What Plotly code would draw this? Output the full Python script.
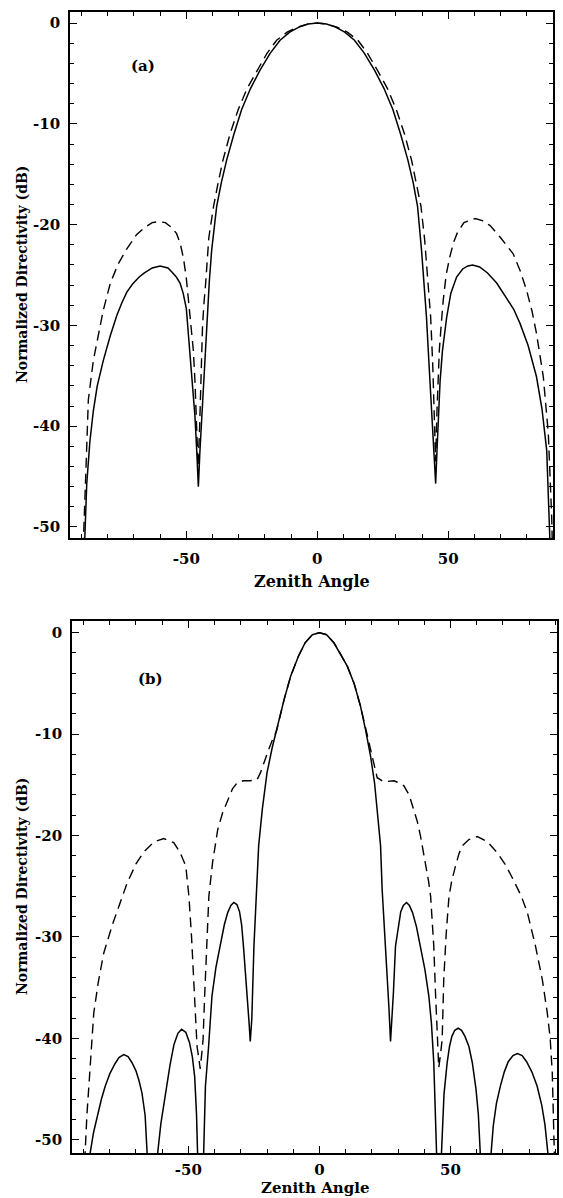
import plotly.graph_objects as go

W, H = 563, 1198

# ---------------- data ----------------
# Panel (a)
a_solid_x = [-90, -88.8, -88.0, -86.8, -85.5, -84.0, -81.7, -79.0, -76.5, -74.5, -72.7, -70.5, -68.0, -66.0, -63.0, -60.0,
             -57.0, -55.5, -53.8, -52.4, -51.2, -50.0, -48.6, -47.6, -46.7, -46.0, -45.4,
             -44.8, -44.1, -43.2, -42.2, -41.2, -40.3, -38.4, -36.6, -34.6, -31.8, -28.9, -25.5, -21.9,
             -18.0, -14.2, -10.5, -7.0, -3.5, 0,
             3.5, 7.0, 10.5, 14.2, 18.0, 21.9, 25.5, 28.9, 31.8, 34.6, 36.6, 38.3, 39.8, 40.8,
             41.7, 42.7, 43.7, 44.5, 45.2, 45.7, 46.2, 46.9, 47.8, 49.4, 51.0, 53.2, 55.5, 57.5,
             59.3, 62.0, 65.0, 68.5, 72.0, 75.0, 77.4, 80.5, 83.7, 85.8, 87.6, 88.8, 90]
a_solid_y = [-60, -51.5, -45.7, -41.5, -38.5, -36.0, -33.5, -31.0, -29.0, -27.7, -26.7, -25.9, -25.2, -24.8, -24.3, -24.1,
             -24.3, -24.7, -25.2, -25.8, -26.8, -28.3, -32.5, -35.5, -39.0, -42.5, -46.0,
             -42.5, -39.1, -34.0, -29.2, -25.6, -22.5, -18.2, -15.8, -13.6, -11.0, -8.6, -6.5, -4.7,
             -3.0, -1.7, -0.9, -0.4, -0.1, 0,
             -0.1, -0.4, -0.9, -1.7, -3.0, -4.7, -6.5, -8.6, -11.0, -13.6, -15.8, -18.2, -22.5, -25.6,
             -29.2, -34.0, -39.1, -42.5, -45.7, -42.5, -39.1, -35.5, -32.5, -29.2, -26.8, -25.2, -24.4, -24.1,
             -24.0, -24.2, -24.8, -25.8, -27.2, -28.4, -29.8, -32.0, -35.1, -38.3, -42.4, -51.5, -60]

a_dash_x = [-90, -89.3, -88.5, -87.4, -85.5, -83.5, -81.7, -79.0, -76.0, -72.7, -69.0, -66.0, -63.0, -60.7,
            -58.0, -55.5, -53.7, -52.3, -51.1, -50.0, -49.2, -48.2, -47.3, -46.7, -46.2, -45.5,
            -44.9, -44.4, -43.8, -43.2, -42.6, -41.4, -39.6, -37.8, -36.0, -33.3, -30.2, -26.8, -23.0,
            -19.2, -15.5, -11.5, -7.5, -3.7, 0,
            3.7, 7.5, 11.5, 15.5, 19.2, 23.0, 26.8, 30.2, 33.3, 36.0, 37.8, 39.6, 41.0, 42.4,
            43.3, 44.1, 44.7, 45.2, 45.7, 46.1, 46.6, 47.3, 48.1, 49.2, 50.6, 52.0, 53.5, 56.0,
            60.3, 63.0, 66.0, 70.0, 74.8, 77.5, 79.9, 82.0, 83.7, 86.3, 88.2, 89.5, 90.5]
a_dash_y = [-60, -51.5, -45.7, -37.4, -33.5, -30.8, -28.5, -25.8, -23.9, -22.4, -21.0, -20.3, -19.8, -19.7,
            -19.8, -20.3, -20.9, -21.9, -23.3, -25.3, -27.5, -30.0, -32.5, -35.5, -38.5, -44.0,
            -40.0, -35.0, -30.0, -27.6, -25.8, -21.3, -18.2, -15.8, -13.6, -11.0, -8.6, -6.5, -4.7,
            -3.0, -1.7, -0.9, -0.4, -0.1, 0,
            -0.1, -0.4, -0.9, -1.7, -3.0, -4.7, -6.5, -8.6, -11.0, -13.6, -15.8, -18.2, -21.5, -25.8,
            -29.2, -34.0, -38.5, -43.5, -38.5, -35.0, -32.5, -30.0, -27.5, -25.0, -23.2, -21.8, -20.8, -19.8,
            -19.4, -19.6, -20.1, -21.3, -22.9, -24.6, -26.5, -28.6, -30.8, -35.1, -40.7, -49.0, -60]

# Panel (b)
b_solid_x = [-89.0, -87.6, -86.2, -84.8, -83.2, -81.7, -80.0, -78.0, -76.5, -74.7, -73.0, -71.5, -70.0, -68.8, -67.7, -66.5, -65.5, -64.0,
             -63.0, -61.8, -60.5, -59.3, -58.4, -57.0, -55.5, -54.0, -52.6, -51.0, -49.6, -48.5, -47.6, -46.9, -45.6,
             -45.3, -44.2, -43.5, -42.3, -41.0, -39.5, -37.8, -36.3, -35.0, -33.8, -32.7, -31.5, -30.5, -29.7,
             -29.0, -28.2, -27.5, -26.9, -26.4, -25.8, -25.0, -24.2, -23.2, -21.8, -20.0, -18.0, -16.1,
             -13.5, -11.0, -8.0, -5.5, -2.7, 0,
             2.7, 5.5, 8.0, 10.6, 13.2, 15.6, 17.6, 19.5, 21.0, 22.0, 23.3, 23.9, 24.6, 25.2, 25.9, 26.5,
             27.1, 27.7, 28.2, 29.0, 30.0, 31.0, 32.0, 33.2, 34.3, 35.5, 37.0, 38.5, 40.2, 41.7, 42.7,
             43.6, 44.4, 45.4, 45.7, 46.5, 47.5, 48.7, 49.6, 50.5, 51.6, 52.9, 54.2, 55.5, 57.0, 58.3,
             59.7, 60.6, 61.4, 63.0, 64.0, 65.4, 66.3, 67.5, 69.0, 70.5, 72.0, 73.8, 75.5, 77.3, 79.0, 81.0, 83.0,
             84.8, 86.0, 87.2, 89.0]
b_solid_y = [-60, -51.5, -49.3, -47.6, -46.0, -44.7, -43.5, -42.5, -41.9, -41.6, -41.8, -42.4, -43.2, -44.2, -45.4, -47.6, -51.5, -60,
             -60, -51.5, -48.4, -46.3, -44.8, -42.6, -40.6, -39.5, -39.1, -39.4, -40.4, -41.8, -43.8, -47.5, -60,
             -60, -51.5, -44.7, -40.8, -35.8, -33.0, -30.9, -28.8, -27.6, -26.9, -26.6, -26.8, -27.5, -28.8,
             -30.9, -33.5, -36.0, -38.3, -40.3, -38.0, -30.9, -26.0, -21.0, -17.4, -13.8, -11.3, -9.2,
             -6.6, -4.3, -2.3, -1.0, -0.2, 0,
             -0.2, -1.0, -2.1, -3.3, -5.0, -7.2, -9.6, -12.2, -14.8, -17.4, -21.0, -25.3, -28.3, -30.9, -33.8, -37.0,
             -40.3, -38.0, -35.5, -30.9, -29.0, -27.5, -26.9, -26.6, -26.9, -27.6, -29.0, -30.9, -33.2, -35.8, -38.5,
             -42.4, -51.5, -60, -60, -51.5, -45.5, -42.4, -40.8, -39.8, -39.2, -39.0, -39.2, -39.8, -40.8, -42.4,
             -45.0, -47.5, -51.5, -60, -60, -51.5, -48.6, -46.4, -44.7, -43.3, -42.3, -41.7, -41.5, -41.7, -42.3, -43.3, -44.7,
             -46.6, -48.5, -51.5, -60]

b_dash_x = [-91.0, -89.5, -88.7, -87.7, -86.1, -84.4, -82.3, -79.0, -76.0, -73.4, -70.0, -67.0, -63.0, -59.4,
            -55.6, -53.3, -51.0, -49.8, -48.8, -47.8, -46.7, -46.0, -45.5,
            -44.9, -44.4, -43.8, -43.1, -42.2, -40.8, -38.8, -37.0, -35.2, -33.2, -31.4, -29.0, -26.5, -23.8,
            -22.5, -21.2, -19.5, -18.0, -16.4, -13.5, -11.0, -8.0, -5.5, -2.7, 0,
            2.7, 5.5, 8.0, 10.6, 13.2, 15.6, 17.5, 19.0, 20.5, 22.0, 24.5, 27.0, 28.4, 30.3, 32.2, 34.2,
            36.0, 37.3, 38.5, 39.6, 40.7, 41.6, 42.4, 43.0, 43.6, 44.3, 44.9, 45.5,
            46.1, 46.8, 47.4, 48.3, 49.4, 50.5, 51.9, 53.2, 54.5, 57.0, 60.2, 64.0, 67.8, 71.0, 74.2,
            77.0, 79.3, 82.4, 85.0, 86.9, 88.0, 88.8, 89.6, 91.0]
b_dash_y = [-60, -51.5, -47.5, -43.7, -37.5, -34.5, -31.6, -28.8, -26.6, -24.7, -22.8, -21.6, -20.6, -20.3,
            -20.7, -21.6, -23.0, -26.0, -30.0, -35.8, -40.8, -42.0, -43.0,
            -41.5, -40.1, -35.8, -30.9, -26.0, -22.7, -19.4, -17.8, -16.6, -15.4, -14.8, -14.6, -14.6, -14.5,
            -13.8, -12.8, -11.6, -10.6, -9.7, -6.6, -4.3, -2.3, -1.0, -0.2, 0,
            -0.2, -1.0, -2.1, -3.3, -5.0, -7.2, -9.3, -11.0, -12.8, -14.3, -14.7, -14.6, -14.6, -14.8, -15.1, -16.0,
            -17.4, -18.6, -20.0, -21.5, -23.0, -24.5, -26.0, -28.3, -30.9, -35.8, -39.4, -42.9,
            -41.7, -40.1, -34.2, -29.8, -26.0, -24.4, -23.0, -21.8, -21.0, -20.4, -20.1, -20.6, -21.7, -22.9, -24.5,
            -26.0, -27.6, -30.9, -34.2, -37.5, -40.0, -43.4, -51.5, -60]

y_tick_vals = [0, -10, -20, -30, -40, -50]
y_tick_text = ["0", "-10", "-20", "-30", "-40", "-50"]
x_tick_vals = [-50, 0, 50]
x_tick_text = ["-50", "0", "50"]
panel_labels = ["(a)", "(b)"]
x_title = "Zenith Angle"
y_title = "Normalized Directivity (dB)"

# ---------------- layout helpers (pixel -> paper) ----------------
def px(x):
    return x / W

def py(y):
    return 1 - y / H

FONT = "DejaVu Serif"
tickfont = dict(family=FONT, size=15, color="black", weight="bold")

panels = [
    dict(xs=a_solid_x, ys=a_solid_y, xd=a_dash_x, yd=a_dash_y,
         xdom=(70, 553), ydom=(12, 538), xr=(-94.4, 90.0), yr=(-51.1, 1.1),
         lab=(-66.5, -4.3), xtitle_y=581, xstand=6, xtitle_size=16),
    dict(xs=b_solid_x, ys=b_solid_y, xd=b_dash_x, yd=b_dash_y,
         xdom=(72, 557), ydom=(621, 1153), xr=(-94.4, 90.6), yr=(-51.3, 1.15),
         lab=(-64.5, -4.6), xtitle_y=1188, xstand=2, xtitle_size=15),
]

fig = go.Figure()
annotations = []
for i, p in enumerate(panels):
    n = "" if i == 0 else str(i + 1)
    xa, ya = "x" + n, "y" + n
    fig.add_trace(go.Scatter(x=p["xd"], y=p["yd"], mode="lines", xaxis=xa, yaxis=ya,
                             line=dict(color="black", width=1.4, dash="10px,6px"),
                             showlegend=False, hoverinfo="skip"))
    fig.add_trace(go.Scatter(x=p["xs"], y=p["ys"], mode="lines", xaxis=xa, yaxis=ya,
                             line=dict(color="black", width=1.5),
                             showlegend=False, hoverinfo="skip"))
    common_x = dict(domain=[px(p["xdom"][0]), px(p["xdom"][1])], range=list(p["xr"]),
                    tickmode="array", tickvals=x_tick_vals, ticktext=x_tick_text,
                    ticks="inside", ticklen=7, tickwidth=1.3, tickcolor="black",
                    minor=dict(dtick=10, tick0=0, ticks="inside", ticklen=4, tickwidth=1, tickcolor="black"),
                    showline=True, linecolor="black", linewidth=1.8, mirror="ticks",
                    showgrid=False, zeroline=False, tickfont=tickfont, automargin=False,
                    ticklabelstandoff=p["xstand"], anchor=ya, fixedrange=True)
    common_y = dict(domain=[py(p["ydom"][1]), py(p["ydom"][0])], range=list(p["yr"]),
                    tickmode="array", tickvals=y_tick_vals, ticktext=y_tick_text,
                    ticks="inside", ticklen=7, tickwidth=1.3, tickcolor="black",
                    minor=dict(dtick=2, tick0=0, ticks="inside", ticklen=4, tickwidth=1, tickcolor="black"),
                    showline=True, linecolor="black", linewidth=1.8, mirror="ticks",
                    showgrid=False, zeroline=False, tickfont=tickfont, automargin=False,
                    ticklabelstandoff=5, anchor=xa, fixedrange=True)
    fig.update_layout(**{"xaxis" + n: common_x, "yaxis" + n: common_y})

    # panel label
    annotations.append(dict(x=p["lab"][0], y=p["lab"][1], xref=xa, yref=ya, text=panel_labels[i],
                            showarrow=False, font=dict(family=FONT, size=15, color="black", weight="bold")))
    # x title
    xc = (p["xdom"][0] + p["xdom"][1]) / 2
    annotations.append(dict(x=px(xc), y=py(p["xtitle_y"]), xref="paper", yref="paper",
                            text=x_title, showarrow=False, xanchor="center", yanchor="middle",
                            font=dict(family=FONT, size=p["xtitle_size"], color="black", weight="bold")))
    # y title
    yc = (p["ydom"][0] + p["ydom"][1]) / 2
    annotations.append(dict(x=px(22), y=py(yc), xref="paper", yref="paper", textangle=-90,
                            text=y_title, showarrow=False, xanchor="center", yanchor="middle",
                            font=dict(family=FONT, size=14, color="black", weight="bold")))

fig.update_layout(width=W, height=H, margin=dict(l=0, r=0, t=0, b=0),
                  paper_bgcolor="white", plot_bgcolor="white", template="none",
                  annotations=annotations, showlegend=False)

fig.write_html("out.html", config={"displayModeBar": False},
               post_script="document.body.style.margin='0px';")
